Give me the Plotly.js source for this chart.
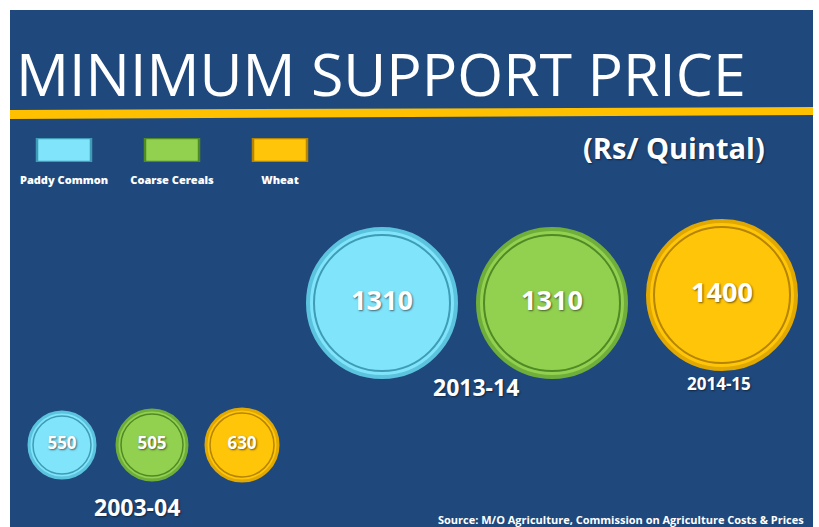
<!DOCTYPE html>
<html>
<head>
<meta charset="utf-8">
<script src="https://cdn.plot.ly/plotly-3.0.1.min.js"></script>
<style>html,body{margin:0;padding:0;background:#fff;}#chart{width:819px;height:527px;}</style>
</head>
<body>
<div id="chart"></div>
<script>
// ---- data ----
const crops = ['Paddy Common', 'Coarse Cereals', 'Wheat'];
const msp2003 = [550, 505, 630];
const year2003 = '2003-04';
const mspRecent = [1310, 1310, 1400];
const recentYears = ['2013-14', '2013-14', '2014-15'];
const titleText = 'MINIMUM SUPPORT PRICE';
const unitText = '(Rs/ Quintal)';
const sourceText = 'Source: M/O Agriculture, Commission on Agriculture Costs & Prices';

// ---- styles ----
const fills = ['#80E4FB', '#92D050', '#FFC508'];
const rims = ['#5BC3DD', '#6FAE3A', '#E0A800'];
const inner = ['#3E9CB6', '#4F8A25', '#B58400'];
const BG = '#1F497D';
const numFont = {family: 'Open Sans', color: '#FFFFFF', weight: 700, shadow: '1px 1px 2px rgba(0,0,0,0.55)'};

const smallSizes = [66, 70, 72];
const bigSizes = [148, 148, 148];

const traces = [];
// legend swatches (bars) with crop names as tick labels
traces.push({
  type: 'bar', x: crops, y: crops.map(() => 1), xaxis: 'x3', yaxis: 'y3', width: 0.5,
  marker: {color: fills, line: {color: inner, width: 2.5}}, hoverinfo: 'skip', showlegend: false
});
// 2003-04 bubbles
traces.push({
  type: 'scatter', mode: 'markers+text', x: crops, y: crops.map(() => year2003), xaxis: 'x', yaxis: 'y',
  text: msp2003.map(String), textposition: 'middle center',
  textfont: Object.assign({size: 17}, numFont),
  marker: {size: smallSizes, color: fills, line: {color: rims, width: 3}, opacity: 1},
  hoverinfo: 'skip', showlegend: false, cliponaxis: false
});
traces.push({
  type: 'scatter', mode: 'markers', x: crops, y: crops.map(() => year2003), xaxis: 'x', yaxis: 'y',
  marker: {size: smallSizes.map(s => s - 8), color: 'rgba(0,0,0,0)', opacity: 1, line: {color: inner, width: 1.5}},
  hoverinfo: 'skip', showlegend: false, cliponaxis: false
});
// recent bubbles
traces.push({
  type: 'scatter', mode: 'markers+text', x: crops, y: recentYears, xaxis: 'x2', yaxis: 'y2',
  text: mspRecent.map(String), textposition: 'middle center',
  textfont: Object.assign({size: 27}, numFont),
  marker: {size: bigSizes, color: fills, opacity: 1, line: {color: rims, width: 4}},
  hoverinfo: 'skip', showlegend: false, cliponaxis: false
});
traces.push({
  type: 'scatter', mode: 'markers', x: crops, y: recentYears, xaxis: 'x2', yaxis: 'y2',
  marker: {size: bigSizes.map(s => s - 12), color: 'rgba(0,0,0,0)', opacity: 1, line: {color: inner, width: 2}},
  hoverinfo: 'skip', showlegend: false, cliponaxis: false
});

const W = 819, H = 527;
const px = v => v / W, py = v => 1 - v / H;
const hidden = {visible: true, showgrid: false, zeroline: false, showline: false, showticklabels: false, ticks: '', fixedrange: true};

const layout = {
  width: W, height: H,
  margin: {l: 0, r: 0, t: 0, b: 0, pad: 0},
  paper_bgcolor: '#FFFFFF', plot_bgcolor: 'rgba(0,0,0,0)',
  showlegend: false,
  title: {text: titleText, x: px(16), xanchor: 'left', xref: 'paper', y: py(75), yanchor: 'middle', yref: 'paper',
          font: {family: 'Open Sans', size: 59, color: '#FFFFFF', weight: 400}},
  xaxis: Object.assign({}, hidden, {domain: [px(17), px(287)], type: 'category', range: [-0.5, 2.5], anchor: 'y'}),
  yaxis: Object.assign({}, hidden, {domain: [py(495), py(395)], type: 'category', range: [-0.5, 0.5], anchor: 'x'}),
  xaxis2: Object.assign({}, hidden, {domain: [px(297), px(807)], type: 'category', range: [-0.5, 2.5], anchor: 'y2'}),
  yaxis2: Object.assign({}, hidden, {domain: [py(307), py(291)], type: 'category', range: [-0.5, 1.5],
          categoryorder: 'array', categoryarray: ['2013-14', '2014-15'], anchor: 'x2'}),
  xaxis3: Object.assign({}, hidden, {domain: [px(10), px(334)], type: 'category', range: [-0.5, 2.5], anchor: 'y3',
          showticklabels: true, ticklabelstandoff: 10,
          tickfont: {family: 'Open Sans', size: 11, color: '#FFFFFF', weight: 800}}),
  yaxis3: Object.assign({}, hidden, {domain: [py(162), py(138)], range: [0, 1], anchor: 'x3'}),
  shapes: [
    {type: 'rect', xref: 'paper', yref: 'paper', x0: px(10), x1: px(813), y0: 0, y1: py(10),
     fillcolor: BG, line: {width: 0}, layer: 'below'},
    {type: 'path', xref: 'paper', yref: 'paper', layer: 'below', line: {width: 0}, fillcolor: '#FFC000',
     path: `M ${px(10)} ${py(110)} L ${px(813)} ${py(107)} L ${px(813)} ${py(115)} L ${px(10)} ${py(119)} Z`}
  ],
  annotations: [
    {text: unitText, xref: 'paper', yref: 'paper', x: px(674), y: py(148), xanchor: 'center', yanchor: 'middle', showarrow: false,
     font: {family: 'Open Sans', size: 29, color: '#FFFFFF', weight: 700, shadow: '1px 1px 2px rgba(0,0,0,0.5)'}},
    {text: year2003, xref: 'paper', yref: 'paper', x: px(137), y: py(507), xanchor: 'center', yanchor: 'middle', showarrow: false,
     font: {family: 'Open Sans', size: 23, color: '#FFFFFF', weight: 700, shadow: '1px 1px 2px rgba(0,0,0,0.5)'}},
    {text: recentYears[0], xref: 'paper', yref: 'paper', x: px(476), y: py(387), xanchor: 'center', yanchor: 'middle', showarrow: false,
     font: {family: 'Open Sans', size: 23, color: '#FFFFFF', weight: 700, shadow: '1px 1px 2px rgba(0,0,0,0.5)'}},
    {text: recentYears[2], xref: 'paper', yref: 'paper', x: px(719), y: py(383), xanchor: 'center', yanchor: 'middle', showarrow: false,
     font: {family: 'Open Sans', size: 17, color: '#FFFFFF', weight: 700, shadow: '1px 1px 2px rgba(0,0,0,0.5)'}},
    {text: sourceText, xref: 'paper', yref: 'paper', x: px(806), y: py(519), xanchor: 'right', yanchor: 'middle', showarrow: false,
     font: {family: 'Open Sans', size: 11, color: '#FFFFFF', weight: 700}}
  ]
};

Plotly.newPlot('chart', traces, layout, {staticPlot: true, displayModeBar: false});
</script>
</body>
</html>
